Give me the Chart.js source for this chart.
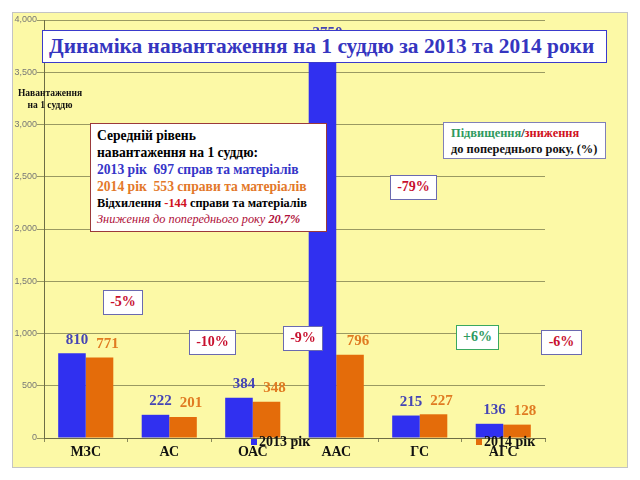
<!DOCTYPE html>
<html>
<head>
<meta charset="utf-8">
<script src="https://cdn.jsdelivr.net/npm/chart.js@4"></script>
<style>
  body { margin: 0; background: #fff; }
  #page { position: relative; width: 640px; height: 480px; overflow: hidden; background: #fff; font-family: "Liberation Serif", serif; }
  #frame { position: absolute; left: 12px; top: 12px; width: 616px; height: 456px; box-sizing: border-box; border: 1px solid #c4c4c4; background: #fcf9a6; }
  #chart { display: block; }
  .box { position: absolute; background: #fff; box-sizing: border-box; font-weight: bold; white-space: nowrap; }
  .pct { border: 1px solid #6a6ab0; color: #c8102e; font-size: 14px; text-align: center; line-height: 22px; }
  #title { left: 42px; top: 30px; width: 565px; height: 33px; border: 1px solid #3a3acc; color: #3535c0; font-size: 21.4px; line-height: 31px; padding-left: 6px; }
  #ylabel { position: absolute; left: 12px; top: 87px; width: 76px; text-align: center; font-size: 9.5px; font-weight: bold; line-height: 12px; color: #111; }
  #info { left: 90px; top: 123px; width: 237px; height: 109px; border: 1px solid #9b3a3a; padding: 3px 0 0 6px; font-size: 13.6px; line-height: 17px; }
  #info .small { font-size: 12.3px; line-height: 16px; }
  #legendBox { left: 443px; top: 122px; width: 163px; height: 37px; border: 1px solid #8080b8; padding: 2px 0 0 7px; font-size: 12.4px; line-height: 16px; color: #111; }
  .leg { position: absolute; font-size: 14px; font-weight: bold; color: #111; line-height: 14px; }
  .leg i { display: inline-block; width: 6px; height: 6px; margin-right: 2px; vertical-align: 1px; }
</style>
</head>
<body>
<div id="page">
  <div id="frame"><canvas id="chart" width="614" height="454"></canvas></div>
  <div class="box" id="title">Динаміка навантаження на 1 суддю за 2013 та 2014 роки</div>
  <div id="ylabel">Навантаження<br>на 1 суддю</div>
  <div class="box" id="info">
    <div>Середній рівень</div>
    <div>навантаження на 1 суддю:</div>
    <div style="color:#3535c8">2013 рік&nbsp; 697 справ та матеріалів</div>
    <div style="color:#e3782a">2014 рік&nbsp; 553 справи та матеріалів</div>
    <div class="small">Відхилення <span style="color:#d01020">-144</span> справи та матеріалів</div>
    <div class="small" style="color:#b0103a;font-style:italic;font-weight:normal">Зниження до попереднього року <b>20,7%</b></div>
  </div>
  <div class="box" id="legendBox">
    <div><span style="color:#2e9a5e">Підвищення</span>/<span style="color:#d01020">зниження</span></div>
    <div>до попереднього року, (%)</div>
  </div>
  <div id="pcts"></div>
  <div class="leg" style="left:251px;top:435px"><i style="background:#3030f0"></i>2013 рік</div>
  <div class="leg" style="left:476px;top:435px"><i style="background:#e46c0a"></i>2014 рік</div>
</div>
<script>
const categories = ['МЗС', 'АС', 'ОАС', 'ААС', 'ГС', 'АГС'];
const values2013 = [810, 222, 384, 3750, 215, 136];
const values2014 = [771, 201, 348, 796, 227, 128];
const yTicks = [0, 500, 1000, 1500, 2000, 2500, 3000, 3500, 4000];

// change boxes: text, left, top, width
const changes = [
  ['-5%', 103, 290, 40],
  ['-10%', 189, 330, 47],
  ['-9%', 283, 326, 40],
  ['-79%', 390, 175, 47],
  ['+6%', 456, 325, 43],
  ['-6%', 541, 330, 41]
];

const pcts = document.getElementById('pcts');
changes.forEach(c => {
  const d = document.createElement('div');
  d.className = 'box pct';
  d.textContent = c[0];
  d.style.left = c[1] + 'px';
  d.style.top = c[2] + 'px';
  d.style.width = c[3] + 'px';
  d.style.height = '25px';
  if (c[0][0] === '+') {
    d.style.borderColor = '#3aa860';
    d.style.color = '#2e9a5e';
  }
  pcts.appendChild(d);
});

const valueLabels = {
  id: 'valueLabels',
  afterDatasetsDraw(chart) {
    const ctx = chart.ctx;
    const colors = ['#4545b5', '#e07b22'];
    ctx.save();
    ctx.font = 'bold 15px "Liberation Serif"';
    ctx.textAlign = 'center';
    ctx.textBaseline = 'bottom';
    chart.data.datasets.forEach((ds, i) => {
      ctx.fillStyle = colors[i];
      chart.getDatasetMeta(i).data.forEach((bar, j) => {
        ctx.fillText(ds.data[j], bar.x + (i ? 8 : 5), bar.y - 6);
      });
    });
    ctx.restore();
  }
};

new Chart(document.getElementById('chart'), {
  type: 'bar',
  data: {
    labels: categories,
    datasets: [
      { label: '2013 рік', data: values2013, backgroundColor: '#3030f0' },
      { label: '2014 рік', data: values2014, backgroundColor: '#e46c0a' }
    ]
  },
  options: {
    responsive: false,
    animation: false,
    devicePixelRatio: 1,
    layout: { padding: { top: 7, right: 82, left: 0, bottom: 0 } },
    datasets: { bar: { categoryPercentage: 0.66, barPercentage: 1 } },
    plugins: { legend: { display: false }, tooltip: { enabled: false } },
    scales: {
      x: {
        afterFit: s => { s.height = 29; },
        grid: { offset: true, drawOnChartArea: false, tickLength: 4, color: '#8a8a5a' },
        border: { color: '#6d6d45', width: 1 },
        ticks: { color: '#111', font: { family: 'Liberation Serif', size: 14, weight: 'bold' }, padding: 2, maxRotation: 0, autoSkip: false }
      },
      y: {
        min: 0,
        max: 4000,
        afterFit: s => { s.width = 31; },
        afterBuildTicks: s => { s.ticks = yTicks.map(v => ({ value: v })); },
        grid: { color: '#9a9a62', tickLength: 7 },
        border: { color: '#6d6d45', width: 1 },
        ticks: {
          color: '#777',
          font: { family: 'Liberation Sans', size: 9 },
          padding: 0,
          callback: v => v.toLocaleString('en-US')
        }
      }
    }
  },
  plugins: [valueLabels]
});
</script>
</body>
</html>
